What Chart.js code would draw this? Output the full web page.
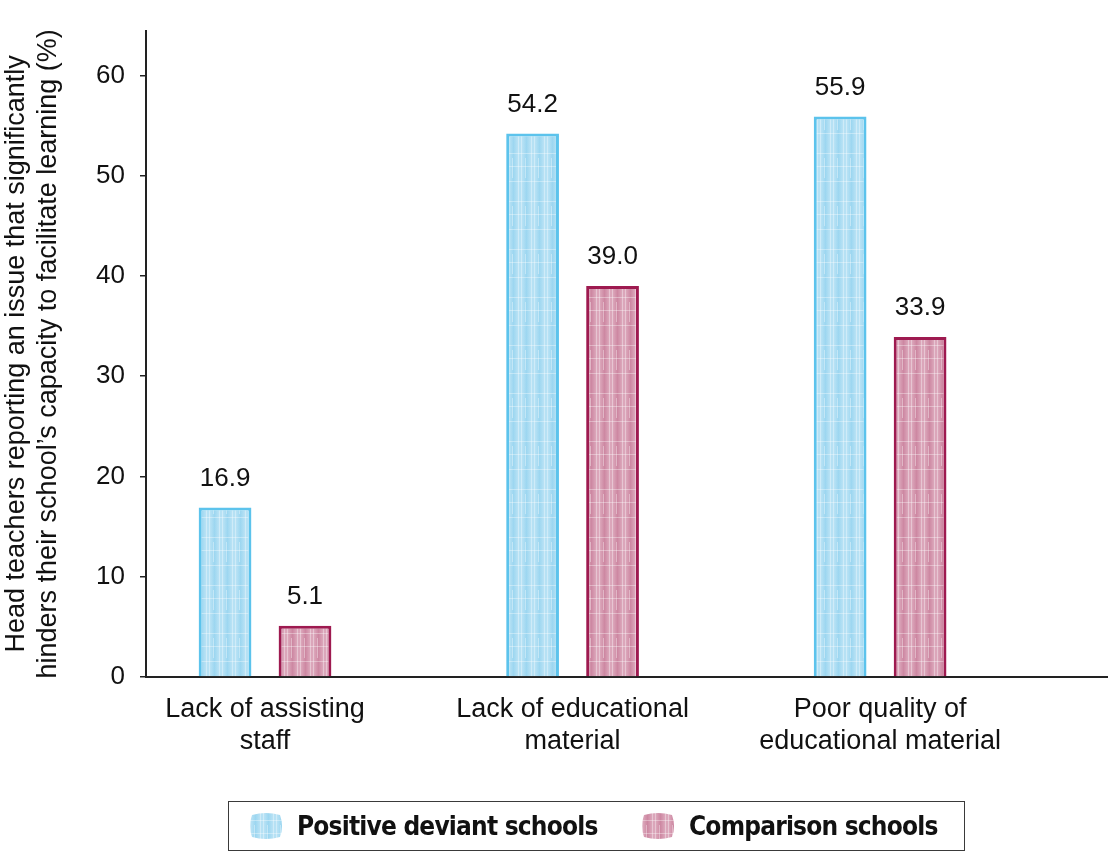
<!DOCTYPE html>
<html>
<head>
<meta charset="utf-8">
<script src="https://cdn.jsdelivr.net/npm/chart.js@4/dist/chart.umd.min.js"></script>
<style>
  html, body { margin: 0; padding: 0; background: #fff; }
  #wrap { position: relative; width: 1108px; height: 854px; }
  #legend {
    position: absolute; left: 228px; top: 801px; width: 737px; height: 50px;
    border: 1.5px solid #3a3a3a; box-sizing: border-box;
    font-family: "Liberation Sans Narrow", "DejaVu Sans Condensed", "Liberation Sans", sans-serif;
    font-weight: bold; font-size: 26px; letter-spacing: -0.8px; color: #111;
  }
  .item { position: absolute; top: 0; height: 100%; display: flex; align-items: center; }
  .sw { width: 34px; height: 30px; margin-right: 14px; }
</style>
</head>
<body>
<div id="wrap">
  <canvas id="c" width="1108" height="854"></canvas>
  <div id="legend">
    <div class="item" style="left:20px"><canvas class="sw" id="sw0" width="34" height="30"></canvas><span id="lg0"></span></div>
    <div class="item" style="left:412px"><canvas class="sw" id="sw1" width="34" height="30"></canvas><span id="lg1"></span></div>
  </div>
</div>
<script>
// ---- data ----
const categories = [["Lack of assisting", "staff"], ["Lack of educational", "material"], ["Poor quality of", "educational material"]];
const seriesNames = ["Positive deviant schools", "Comparison schools"];
const positiveDeviant = [16.9, 54.2, 55.9];
const comparison = [5.1, 39.0, 33.9];
const yTicks = [0, 10, 20, 30, 40, 50, 60];
const yTitle = ["Head teachers reporting an issue that significantly", "hinders their school\u2019s capacity to facilitate learning (%)"];

// ---- styles ----
const FONT = "'Liberation Sans', Arial, sans-serif";
function makePattern(base, streak, light) {
  const t = document.createElement('canvas');
  t.width = 13; t.height = 48;
  const g = t.getContext('2d');
  g.fillStyle = base; g.fillRect(0, 0, 13, 48);
  const gr = g.createLinearGradient(0, 0, 13, 0);
  gr.addColorStop(0, light); gr.addColorStop(0.5, streak); gr.addColorStop(1, light);
  g.fillStyle = gr; g.globalAlpha = 0.7; g.fillRect(2, 0, 9, 48);
  g.globalAlpha = 0.35; g.fillStyle = '#ffffff';
  g.fillRect(0, 9, 13, 1); g.fillRect(0, 22, 13, 1); g.fillRect(0, 37, 13, 1);
  g.fillRect(1, 0, 1, 48); g.fillRect(11, 0, 1, 48); g.fillRect(5, 14, 1, 20);
  return g.createPattern(t, 'repeat');
}
const ctxMain = document.getElementById('c').getContext('2d');
const bluePat = makePattern('#b6e1f4', '#92d2ef', '#cdebf8');
const pinkPat = makePattern('#dba6ba', '#c77b98', '#e6bccb');

['sw0', 'sw1'].forEach((id, i) => {
  const cv = document.getElementById(id); const g = cv.getContext('2d');
  g.fillStyle = i === 0 ? bluePat : pinkPat;
  g.beginPath();
  g.moveTo(3, 4); g.quadraticCurveTo(17, 0, 31, 4); g.quadraticCurveTo(35, 15, 31, 26);
  g.quadraticCurveTo(17, 30, 3, 26); g.quadraticCurveTo(-1, 15, 3, 4); g.fill();
});
document.getElementById('lg0').textContent = seriesNames[0];
document.getElementById('lg1').textContent = seriesNames[1];

const valueLabels = {
  id: 'valueLabels',
  afterDatasetsDraw(chart) {
    const ctx = chart.ctx;
    ctx.save();
    ctx.font = "26px " + FONT;
    ctx.fillStyle = '#111';
    ctx.textAlign = 'center';
    ctx.textBaseline = 'middle';
    chart.data.datasets.forEach((ds, di) => {
      chart.getDatasetMeta(di).data.forEach((el, i) => {
        ctx.fillText(ds.data[i].y.toFixed(1), el.x, el.y - 29);
      });
    });
    ctx.restore();
  }
};

new Chart(ctxMain, {
  type: 'bar',
  data: {
    datasets: [
      {
        label: seriesNames[0],
        data: positiveDeviant.map((v, i) => ({ x: i, y: v })),
        backgroundColor: bluePat, borderColor: '#5cc3ec', borderWidth: 3, borderSkipped: 'bottom',
        categoryPercentage: 0.52, barPercentage: 0.66
      },
      {
        label: seriesNames[1],
        data: comparison.map((v, i) => ({ x: i, y: v })),
        backgroundColor: pinkPat, borderColor: '#9e1a50', borderWidth: 3, borderSkipped: 'bottom',
        categoryPercentage: 0.52, barPercentage: 0.66
      }
    ]
  },
  options: {
    responsive: false, animation: false, devicePixelRatio: 1,
    layout: { padding: { top: 28, left: 0, right: 0, bottom: 0 } },
    plugins: { legend: { display: false }, tooltip: { enabled: false } },
    scales: {
      x: {
        type: 'linear', min: -0.387, max: 2.741, offset: false,
        grid: { display: false },
        border: { display: true, color: '#222', width: 2 },
        afterBuildTicks: (s) => { s.ticks = categories.map((c, i) => ({ value: i })); },
        afterFit: (s) => { s.height = 177; },
        ticks: {
          autoSkip: false, maxRotation: 0, padding: 8,
          font: { family: FONT, size: 27, lineHeight: 1.2 }, color: '#111',
          callback: (v) => categories[v]
        }
      },
      y: {
        min: 0, max: 64.47,
        afterBuildTicks: (s) => { s.ticks = yTicks.map(v => ({ value: v })); },
        afterFit: (s) => { s.width = 146; },
        grid: { drawOnChartArea: false, drawTicks: true, tickLength: 6, color: '#222', lineWidth: 1.5 },
        border: { display: true, color: '#222', width: 2 },
        ticks: { padding: 15, font: { family: FONT, size: 26 }, color: '#111' },
        title: {
          display: true, text: yTitle, color: '#111',
          font: { family: FONT, size: 27, lineHeight: 1.18 },
          padding: { top: 1, bottom: 0 }
        }
      }
    }
  },
  plugins: [valueLabels]
});
</script>
</body>
</html>
